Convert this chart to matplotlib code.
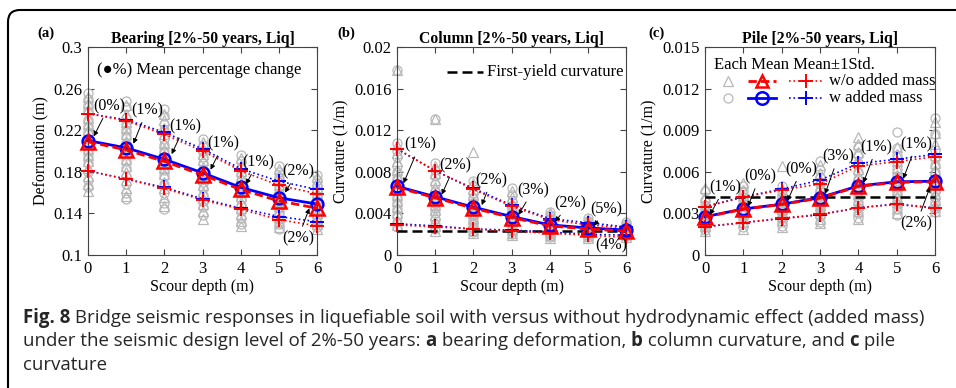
import matplotlib
matplotlib.use('Agg')
import matplotlib.pyplot as plt
from matplotlib.patches import FancyBboxPatch
from matplotlib.lines import Line2D

plt.rcParams['font.family'] = ['Liberation Serif', 'DejaVu Serif']

depth = [0, 1, 2, 3, 4, 5, 6]

# ---- (a) bearing deformation (m) ----
a_each_w = [
    [0.256, 0.250, 0.244, 0.238, 0.230, 0.224, 0.218, 0.212, 0.206, 0.200, 0.194, 0.188, 0.180, 0.172, 0.165],
    [0.248, 0.242, 0.232, 0.226, 0.220, 0.214, 0.208, 0.202, 0.196, 0.190, 0.184, 0.176, 0.168, 0.160, 0.154],
    [0.240, 0.234, 0.226, 0.220, 0.212, 0.206, 0.200, 0.194, 0.188, 0.182, 0.176, 0.168, 0.160, 0.150, 0.144],
    [0.212, 0.206, 0.200, 0.194, 0.188, 0.182, 0.176, 0.170, 0.164, 0.158, 0.152, 0.146, 0.138],
    [0.196, 0.190, 0.184, 0.178, 0.172, 0.166, 0.160, 0.154, 0.148, 0.142, 0.136, 0.130],
    [0.186, 0.180, 0.175, 0.170, 0.165, 0.160, 0.155, 0.150, 0.145, 0.140, 0.135, 0.130, 0.125],
    [0.177, 0.172, 0.167, 0.162, 0.157, 0.152, 0.147, 0.142, 0.137, 0.132, 0.127],
]
a_each_wo = [
    [0.252, 0.246, 0.240, 0.232, 0.226, 0.220, 0.214, 0.208, 0.202, 0.196, 0.190, 0.184, 0.176, 0.168, 0.162],
    [0.244, 0.236, 0.228, 0.222, 0.216, 0.210, 0.204, 0.198, 0.192, 0.186, 0.180, 0.172, 0.164, 0.157],
    [0.236, 0.230, 0.222, 0.216, 0.208, 0.202, 0.196, 0.190, 0.184, 0.178, 0.170, 0.164, 0.156, 0.147],
    [0.209, 0.203, 0.197, 0.191, 0.185, 0.179, 0.173, 0.167, 0.161, 0.155, 0.149, 0.142, 0.135],
    [0.193, 0.187, 0.181, 0.175, 0.169, 0.163, 0.157, 0.151, 0.145, 0.139, 0.133, 0.128],
    [0.183, 0.177, 0.172, 0.167, 0.162, 0.157, 0.152, 0.147, 0.142, 0.137, 0.132, 0.127],
    [0.175, 0.170, 0.165, 0.160, 0.155, 0.150, 0.145, 0.140, 0.135, 0.130, 0.125],
]
a_w_mean = [0.210, 0.203, 0.192, 0.179, 0.165, 0.155, 0.149]
a_wo_mean = [0.209, 0.201, 0.190, 0.177, 0.163, 0.152, 0.145]
a_w_up = [0.236, 0.230, 0.218, 0.202, 0.183, 0.171, 0.163]
a_wo_up = [0.236, 0.229, 0.216, 0.200, 0.181, 0.167, 0.159]
a_w_lo = [0.181, 0.173, 0.165, 0.154, 0.145, 0.137, 0.132]
a_wo_lo = [0.181, 0.173, 0.164, 0.153, 0.144, 0.134, 0.128]
a_notes = [('(0%)', (0.55, 0.243), (0.15, 0.214)),
           ('(1%)', (1.54, 0.239), (1.19, 0.207)),
           ('(1%)', (2.54, 0.224), (2.19, 0.197)),
           ('(1%)', (3.55, 0.207), (3.21, 0.182)),
           ('(1%)', (4.45, 0.189), (4.14, 0.168)),
           ('(2%)', (5.5, 0.180), (5.16, 0.160)),
           ('(2%)', (5.5, 0.116), (5.8, 0.145))]

# ---- (b) column curvature (1/m) ----
b_each_w = [
    [0.0178, 0.0108, 0.0100, 0.0094, 0.0086, 0.0080, 0.0074, 0.0068, 0.0062, 0.0056, 0.0050, 0.0044, 0.0038, 0.0032, 0.0027],
    [0.0131, 0.0088, 0.0082, 0.0076, 0.0068, 0.0062, 0.0056, 0.0050, 0.0045, 0.0040, 0.0035, 0.0030, 0.0025],
    [0.0071, 0.0066, 0.0060, 0.0055, 0.0050, 0.0046, 0.0042, 0.0038, 0.0034, 0.0030, 0.0026, 0.0022],
    [0.0064, 0.0058, 0.0052, 0.0047, 0.0043, 0.0039, 0.0035, 0.0031, 0.0027, 0.0023, 0.0020],
    [0.0041, 0.0038, 0.0035, 0.0032, 0.0029, 0.0026, 0.0023, 0.0020, 0.0017],
    [0.0036, 0.0033, 0.0030, 0.0027, 0.0025, 0.0023, 0.0021, 0.0019, 0.0017],
    [0.0032, 0.0030, 0.0028, 0.0026, 0.0024, 0.0022, 0.0020, 0.0018],
]
b_each_wo = [
    [0.0178, 0.0106, 0.0098, 0.0090, 0.0082, 0.0076, 0.0070, 0.0064, 0.0058, 0.0052, 0.0046, 0.0040, 0.0034, 0.0029],
    [0.0131, 0.0086, 0.0079, 0.0072, 0.0065, 0.0059, 0.0053, 0.0048, 0.0043, 0.0038, 0.0033, 0.0028, 0.0023],
    [0.0099, 0.0069, 0.0063, 0.0058, 0.0052, 0.0048, 0.0044, 0.0040, 0.0036, 0.0032, 0.0028, 0.0024, 0.0021],
    [0.0062, 0.0056, 0.0050, 0.0045, 0.0041, 0.0037, 0.0033, 0.0029, 0.0025, 0.0021, 0.0019],
    [0.0040, 0.0037, 0.0034, 0.0031, 0.0028, 0.0025, 0.0022, 0.0019, 0.0016],
    [0.0035, 0.0032, 0.0029, 0.0026, 0.0024, 0.0022, 0.0020, 0.0018, 0.0016],
    [0.0031, 0.0029, 0.0027, 0.0025, 0.0023, 0.0021, 0.0019, 0.0017],
]
b_w_mean = [0.0066, 0.0056, 0.0046, 0.0037, 0.0029, 0.0026, 0.0024]
b_wo_mean = [0.0065, 0.0055, 0.0045, 0.0036, 0.0028, 0.0025, 0.0023]
b_w_up = [0.0102, 0.0081, 0.0064, 0.0048, 0.0035, 0.0031, 0.0027]
b_wo_up = [0.0102, 0.0081, 0.0063, 0.0047, 0.0034, 0.0029, 0.0026]
b_w_lo = [0.0030, 0.0028, 0.0025, 0.0024, 0.0022, 0.0020, 0.0019]
b_wo_lo = [0.0029, 0.0027, 0.0025, 0.0023, 0.0021, 0.0019, 0.0017]
b_yield = 0.0023
b_notes = [('(1%)', (0.6, 0.0106), (0.17, 0.0069)),
           ('(2%)', (1.52, 0.00865), (1.17, 0.0058)),
           ('(2%)', (2.48, 0.0072), (2.22, 0.0048)),
           ('(3%)', (3.57, 0.00625), (3.18, 0.00385)),
           ('(2%)', (4.53, 0.00497), (4.14, 0.0032)),
           ('(5%)', (5.49, 0.00442), (5.16, 0.0028)),
           ('(4%)', (5.62, 0.0009), None)]

# ---- (c) pile curvature (1/m) ----
c_each_w = [
    [0.0046, 0.0040, 0.0036, 0.0033, 0.0030, 0.0028, 0.0026, 0.0024, 0.0022, 0.0020, 0.0018],
    [0.0050, 0.0046, 0.0042, 0.0039, 0.0036, 0.0033, 0.0031, 0.0029, 0.0026, 0.0023, 0.0020],
    [0.0050, 0.0046, 0.0042, 0.0039, 0.0036, 0.0034, 0.0032, 0.0030, 0.0027, 0.0024, 0.0021],
    [0.0068, 0.0061, 0.0056, 0.0051, 0.0047, 0.0043, 0.0040, 0.0037, 0.0034, 0.0031, 0.0028, 0.0024],
    [0.0078, 0.0072, 0.0066, 0.0060, 0.0055, 0.0050, 0.0046, 0.0042, 0.0038, 0.0034, 0.0030, 0.0027],
    [0.0089, 0.0077, 0.0072, 0.0067, 0.0062, 0.0057, 0.0053, 0.0049, 0.0045, 0.0041, 0.0037, 0.0033, 0.0029],
    [0.0099, 0.0087, 0.0076, 0.0070, 0.0065, 0.0060, 0.0055, 0.0050, 0.0046, 0.0042, 0.0038, 0.0034, 0.0031],
]
c_each_wo = [
    [0.0048, 0.0042, 0.0037, 0.0034, 0.0031, 0.0029, 0.0027, 0.0025, 0.0023, 0.0021, 0.0017],
    [0.0052, 0.0047, 0.0043, 0.0040, 0.0037, 0.0034, 0.0032, 0.0030, 0.0027, 0.0024, 0.0019],
    [0.0064, 0.0047, 0.0043, 0.0040, 0.0037, 0.0035, 0.0033, 0.0031, 0.0028, 0.0025, 0.0020],
    [0.0065, 0.0059, 0.0054, 0.0049, 0.0045, 0.0042, 0.0039, 0.0036, 0.0033, 0.0030, 0.0026, 0.0023],
    [0.0085, 0.0080, 0.0074, 0.0068, 0.0062, 0.0057, 0.0052, 0.0048, 0.0044, 0.0040, 0.0036, 0.0032, 0.0026],
    [0.0078, 0.0073, 0.0068, 0.0063, 0.0058, 0.0054, 0.0050, 0.0046, 0.0042, 0.0038, 0.0034, 0.0030],
    [0.0096, 0.0088, 0.0080, 0.0072, 0.0066, 0.0061, 0.0056, 0.0052, 0.0048, 0.0044, 0.0040, 0.0036, 0.0032],
]
c_w_mean = [0.00276, 0.00332, 0.00366, 0.00414, 0.00498, 0.00528, 0.00532]
c_wo_mean = [0.00274, 0.00330, 0.00365, 0.00410, 0.00495, 0.00524, 0.00528]
c_w_up = [0.00348, 0.00420, 0.00475, 0.00540, 0.00660, 0.00690, 0.00726]
c_wo_up = [0.00348, 0.00416, 0.00469, 0.00512, 0.00642, 0.00673, 0.00709]
c_w_lo = [0.00204, 0.00234, 0.00262, 0.00290, 0.00341, 0.00368, 0.00340]
c_wo_lo = [0.00204, 0.00233, 0.00265, 0.00293, 0.00341, 0.00365, 0.00337]
c_yield = 0.00416
c_notes = [('(1%)', (0.52, 0.00488), (0.13, 0.0029)),
           ('(0%)', (1.43, 0.00565), (1.12, 0.0035)),
           ('(0%)', (2.52, 0.00618), (2.15, 0.0039)),
           ('(3%)', (3.48, 0.00709), (3.13, 0.0044)),
           ('(1%)', (4.48, 0.00777), (4.13, 0.0052)),
           ('(1%)', (5.52, 0.0080), (5.17, 0.0055)),
           ('(2%)', (5.52, 0.00229), (5.87, 0.0049))]

GRAY = '#b8b8b8'
W = 956.0
H = 388.0

fig = plt.figure(figsize=(9.56, 3.88), dpi=100)


def panel(rect, each_w, each_wo, w_mean, wo_mean, w_up, wo_up, w_lo, wo_lo,
          ylim, yticks, yticklabels, ylabel, title, notes, yld=None):
    ax = fig.add_axes(rect)
    for i, x in enumerate(depth):
        ax.plot([x] * len(each_w[i]), each_w[i], ls='none', marker='o', mfc='none',
                mec=GRAY, ms=6.5, mew=0.9, clip_on=False, zorder=2)
        ax.plot([x] * len(each_wo[i]), each_wo[i], ls='none', marker='^', mfc='none',
                mec=GRAY, ms=6.5, mew=0.9, clip_on=False, zorder=2)
    if yld is not None:
        ax.plot([0, 6], [yld, yld], color='black', lw=1.8, dashes=(4, 2), zorder=3)
    for up, lo, col in [(w_up, w_lo, 'blue'), (wo_up, wo_lo, 'red')]:
        for s in (up, lo):
            ax.plot(depth, s, color=col, ls=':', lw=1.2, marker='+', ms=10, mew=1.4,
                    clip_on=False, zorder=4)
    ax.plot(depth, w_mean, color='blue', lw=2, marker='o', mfc='none', mec='blue',
            ms=8.5, mew=1.8, clip_on=False, zorder=5)
    ax.plot(depth, wo_mean, color='red', lw=2, dashes=(3, 1.5), marker='^', mfc='none',
            mec='red', ms=9.5, mew=1.8, clip_on=False, zorder=6)
    for txt, pos, head in notes:
        if head is None:
            ax.text(pos[0], pos[1], txt, ha='center', va='center', fontsize=11.5, zorder=7)
        else:
            ax.annotate(txt, xy=head, xytext=pos, ha='center', va='center', fontsize=11.5,
                        zorder=7, arrowprops=dict(arrowstyle='-|>', color='black', lw=0.7,
                                                  mutation_scale=7, shrinkA=1, shrinkB=0))
    ax.set_xlim(0, 6)
    ax.set_ylim(*ylim)
    ax.set_xticks(depth)
    ax.set_yticks(yticks)
    ax.set_yticklabels(yticklabels)
    ax.tick_params(direction='in', top=True, right=True, length=4, width=0.8,
                   color='#444444', labelsize=12, pad=4)
    for sp in ax.spines.values():
        sp.set_color('#444444')
        sp.set_linewidth(0.8)
    ax.set_xlabel('Scour depth (m)', fontsize=11.5, labelpad=2)
    ax.set_ylabel(ylabel, fontsize=11.5, labelpad=3)
    ax.set_title(title, fontweight='bold', fontsize=11.3, pad=3)
    return ax


bottom = 1 - 255 / H
height = 208 / H
ax_a = panel([88 / W, bottom, 229 / W, height], a_each_w, a_each_wo, a_w_mean, a_wo_mean,
             a_w_up, a_wo_up, a_w_lo, a_wo_lo, (0.1, 0.3),
             [0.1, 0.14, 0.18, 0.22, 0.26, 0.3], ['0.1', '0.14', '0.18', '0.22', '0.26', '0.3'],
             'Deformation (m)', 'Bearing [2%-50 years, Liq]', a_notes)
ax_b = panel([397 / W, bottom, 229 / W, height], b_each_w, b_each_wo, b_w_mean, b_wo_mean,
             b_w_up, b_wo_up, b_w_lo, b_wo_lo, (0, 0.02),
             [0, 0.004, 0.008, 0.012, 0.016, 0.02], ['0', '0.004', '0.008', '0.012', '0.016', '0.02'],
             'Curvature (1/m)', 'Column [2%-50 years, Liq]', b_notes, b_yield)
ax_c = panel([705 / W, bottom, 230 / W, height], c_each_w, c_each_wo, c_w_mean, c_wo_mean,
             c_w_up, c_wo_up, c_w_lo, c_wo_lo, (0, 0.015),
             [0, 0.003, 0.006, 0.009, 0.012, 0.015], ['0', '0.003', '0.006', '0.009', '0.012', '0.015'],
             'Curvature (1/m)', 'Pile [2%-50 years, Liq]', c_notes, c_yield)

# legends
ax_a.text(0.04, 0.889, '(\u25cf%) Mean percentage change', transform=ax_a.transAxes,
          fontsize=12, va='center', ha='left')
ax_b.add_line(Line2D([0.218, 0.376], [0.88, 0.88], transform=ax_b.transAxes, color='black',
                     lw=1.8, dashes=(4, 2)))
ax_b.text(0.393, 0.88, 'First-yield curvature', transform=ax_b.transAxes, fontsize=12,
          va='center', ha='left')
ax_c.text(0.039, 0.913, 'Each Mean Mean\u00b11Std.', transform=ax_c.transAxes, fontsize=12,
          va='center', ha='left')
for yy, mk, col, ls, txt in [(0.838, '^', 'red', '--', 'w/o added mass'),
                             (0.757, 'o', 'blue', '-', 'w added mass')]:
    ax_c.add_line(Line2D([0.1], [yy], transform=ax_c.transAxes, ls='none', marker=mk,
                         mfc='none', mec=GRAY, ms=6.5, mew=0.9))
    ln = Line2D([0.187, 0.309], [yy, yy], transform=ax_c.transAxes, color=col, lw=2, ls=ls)
    if ls == '--':
        ln.set_dashes((3, 1.5))
    ax_c.add_line(ln)
    ax_c.add_line(Line2D([0.248], [yy], transform=ax_c.transAxes, ls='none', marker=mk,
                         mfc='none', mec=col, ms=9, mew=1.8))
    ax_c.add_line(Line2D([0.365, 0.513], [yy, yy], transform=ax_c.transAxes, color=col,
                         lw=1.2, ls=':'))
    ax_c.add_line(Line2D([0.44], [yy], transform=ax_c.transAxes, ls='none', marker='+',
                         mec=col, ms=10, mew=1.4))
    ax_c.text(0.539, yy, txt, transform=ax_c.transAxes, fontsize=12, va='center', ha='left')

for lab, px in [('(a)', 37), ('(b)', 337), ('(c)', 648)]:
    fig.text(px / W, 1 - 33 / H, lab, fontweight='bold', fontsize=10.5, ha='left', va='center')

# caption box
box = FancyBboxPatch((0.08, -1.0), 12, 3.78 + 1.0, boxstyle='round,pad=0,rounding_size=0.12',
                     transform=fig.dpi_scale_trans, fill=False, ec='black', lw=1.5)
fig.add_artist(box)

caption = [
    [('Fig. 8', 'bold'), (' Bridge seismic responses in liquefiable soil with versus without '
                          'hydrodynamic effect (added mass)', 'normal')],
    [('under the seismic design level of 2%-50 years: ', 'normal'), ('a', 'bold'),
     (' bearing deformation, ', 'normal'), ('b', 'bold'), (' column curvature, and ', 'normal'),
     ('c', 'bold'), (' pile', 'normal')],
    [('curvature', 'normal')],
]
renderer = fig.canvas.get_renderer()
for k, runs in enumerate(caption):
    x = 23 / 100.0
    y = (H - (323 + 23.3 * k)) / 100.0
    for s, wt in runs:
        t = fig.text(x, y, s, fontsize=13.4, fontweight=wt, family='Open Sans', ha='left',
                     va='baseline', transform=fig.dpi_scale_trans, color='#262626')
        x += t.get_window_extent(renderer).width / fig.dpi

fig.savefig('out.png', dpi=100)
